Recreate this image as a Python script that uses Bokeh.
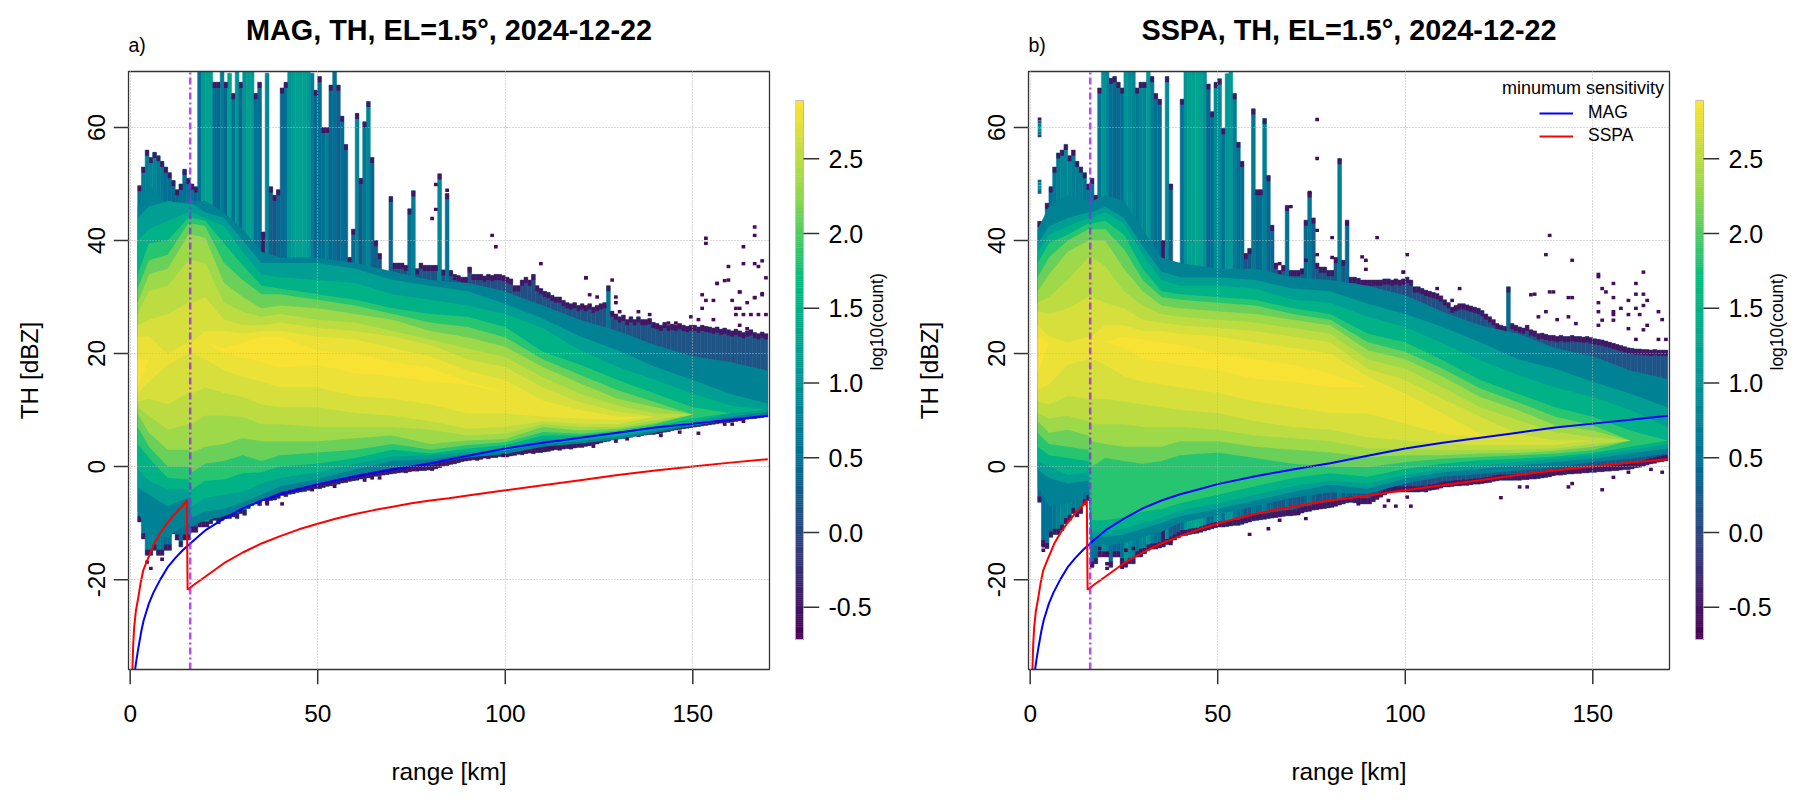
import math
from bokeh.plotting import figure
from bokeh.layouts import row
from bokeh.models import (ColumnDataSource, FixedTicker, Label, Legend, LegendItem, Range1d, Title)
from bokeh.embed import file_html
from bokeh.resources import INLINE

# colour scale: log10(count)
CB_LOW, CB_HIGH = -0.715, 2.89
CB_TICKS = [-0.5, 0.0, 0.5, 1.0, 1.5, 2.0, 2.5]
STOPS = ["#4B0055", "#353E7C", "#007094", "#009B95", "#00BE7D", "#96D84B", "#FDE333"]

X_TICKS = [0, 50, 100, 150]
Y_TICKS = [-20, 0, 20, 40, 60]
X_BOX = (-0.45, 170.45)
Y_BOX = (-35.9, 69.9)

# per-km columns (range bins 2..169 km): top and bottom of the occupied dBZ span, column log10(count)
KM = list(range(2, 170))
A_TOP = [49.7,53,56,54.7,55.6,55,54,53,
 52,50.6,49,50,52.6,51,50,49.5,70,70,
 70,70,68,68,70,68,69.6,66,70,68,
 70,70,70,66,68,41.5,69.6,49.5,48,49,
 67,68,70,70,70,70,70,70,69.6,66.6,
 69,60,60,67.5,70,67.5,62,57,37,42,
 62.5,51,61,64.6,54.7,40,37.7,34,34,47.8,
 36,36,36,35.6,45.6,48.8,35,36,35.6,35.6,
 35.6,35.6,51.8,34.8,48.3,34.7,34,33.8,33.5,33.5,
 35.3,34,34,34,33.7,34,33.8,34,34,33.8,
 33.5,33.2,32,32,33,33.5,33,34,32,31.5,
 31,30.8,30.3,30,30,29.4,29,28.8,29,28.5,
 28.8,28.5,28.8,28.2,28.5,28.8,29,32,27.5,27,
 26.5,26.8,26,26.5,26,26.5,26,26,26.2,25.5,
 25.3,25,25.5,25,25.2,25,25.3,25,24.8,25,
 25,24.7,25,24.8,24.7,24.5,24.7,24.3,24.5,24.2,
 24,24.3,24,23.7,24,24.2,23.7,23.5,23.8,23.5]
A_BOT = [-9.8,-12.8,-15.7,-15.7,-14.8,-15.7,-15.7,-14.8,
 -14.8,-11.9,-13,-14.2,-13,-13,-11.6,-11.6,-10.7,-10.7,
 -10.7,-10.1,-9.5,-10.1,-9.5,-9.2,-9.2,-8.9,-9.2,-8.3,
 -8.6,-7.4,-6.9,-6.6,-6.9,-6,-6.6,-6,-5.9,-5.6,
 -5.1,-5.3,-4.9,-4.8,-4.6,-4.5,-4.4,-4.2,-4.1,-3.9,
 -3.9,-3.7,-3.5,-3.4,-3.2,-3.1,-2.9,-2.8,-2.6,-2.5,
 -2.4,-2.2,-2.1,-2,-1.8,-1.7,-1.6,-1.5,-1.4,-1.3,
 -1.2,-1.1,-1,-1.1,-.9,-.8,-.8,-.7,-.7,-.6,
 -.7,-.4,-.2,.1,.2,.4,.5,.7,.9,1,
 1.1,1.2,1.1,1.3,1.5,1.4,1.6,1.6,1.8,1.7,
 1.7,1.9,2,2.2,2.1,2.3,2.4,2.3,2.5,2.5,
 2.6,2.7,2.9,3,2.9,3.1,3.2,3.1,3.3,3.4,
 3.4,3.6,3.7,3.9,4,4.2,4.4,4.5,4.7,4.8,
 4.9,5,5.1,5.2,5.4,5.3,5.5,5.6,5.7,5.7,
 5.8,5.9,6.1,6.2,6.4,6.5,6.6,6.7,6.8,6.9,
 7,7.1,7.2,7.3,7.4,7.5,7.6,7.7,7.8,7.8,
 7.9,8,8.1,8.3,8.4,8.5,8.5,8.6,8.7,8.8]
A_VAL = [.6,.7,.7,.8,.8,.7,.6,.5,
 .5,.4,.4,.5,.5,.5,.6,.4,.5,1.1,
 1.2,1.2,.5,.4,.7,.4,1.2,.5,1.0,.4,
 1.0,1.2,1.1,.5,.5,-.5,.8,.3,.2,.4,
 .4,.5,1.0,1.1,1.2,1.2,1.2,1.1,.7,.4,
 .5,.5,.7,.4,.5,.3,.5,.4,.2,.4,
 .8,.2,.6,.8,.4,.3,.3,.3,.3,.4,
 .2,.2,.2,.2,.5,.7,.2,.2,.2,.2,
 .2,.2,.85,.2,.55,.2,.2,.2,.2,.2,
 .1,.1,.1,.1,.1,.1,.1,.1,.1,.1,
 .1,.1,.1,.1,.1,.1,.1,.1,.1,.1,
 .15,.15,.15,.15,.15,.15,.15,.15,.15,.15,
 .15,.15,.15,.15,.15,.15,.15,.6,.15,.15,
 .15,.15,.15,.15,.15,.15,.15,.15,.15,.15,
 .15,.15,.15,.15,.15,.15,.15,.15,.15,.15,
 .15,.15,.15,.15,.15,.15,.15,.15,.15,.15,
 .15,.15,.15,.15,.15,.15,.15,.15,.15,.15]

B_TOP = [43.4,43,46.6,49.5,53,55.5,56,57,
 55,56,54,53,52,50,51,48,67,70,
 70,68.7,69,68,67,70,70,70,67,68,
 68,70,69,66,65,40,69,50,36,36,
 65,70,70,70,70,70,70,67.7,62.8,68,
 68.6,59.8,69.5,70,66,57.4,54,37.7,38.6,63.3,
 49,49,61.6,51.5,42.7,36,34.7,35.6,46.2,34.7,
 34.7,34.7,35,43.6,48.6,44,36,35.3,35.3,34.7,
 34.7,37,54.5,36.5,43.6,33.5,33.5,33.3,33,33,
 33,33,33,33,33.2,33.2,33,33.2,33,33.2,
 33.5,33,31.8,31.8,31.5,31.2,31,30.8,30.6,30.2,
 29.5,29,28.2,28.5,28.8,28.8,28.6,28.4,28.2,28,
 27.6,27,26.5,26,25.3,25,24.8,31.8,25.3,25,
 24.7,24.5,25,24.2,24,23.5,23.6,23.4,23.2,23.2,
 23,23.2,23,23,23.2,23,23,22.9,23,22.8,
 22.6,22.5,22.4,22.2,22,21.8,21.6,21.4,21.2,21,
 20.9,20.8,20.8,20.7,20.7,20.6,20.7,20.6,20.6,20.6]
B_BOT = [-6.3,-14,-14.5,-12.5,-12,-12,-11.3,-10.1,
 -9.5,-8.3,-8.9,-8.3,-6.8,-6,-17.8,-17.2,-16,-16,
 -16,-17.8,-16,-16,-17.8,-17.8,-17.2,-17.2,-16,-16,
 -15.4,-14.8,-14.6,-14.6,-14.4,-14.2,-13.8,-13.4,-13,-12.6,
 -12.2,-12.2,-12,-11.9,-11.8,-11.6,-11.4,-11.2,-11,-10.8,
 -10.7,-10.7,-10.6,-10.5,-10.4,-10.4,-10.2,-10,-9.8,-9.6,
 -9.5,-9.4,-9.3,-9.2,-9.1,-9,-8.9,-8.8,-8.7,-8.7,
 -8.6,-8.4,-8.2,-8,-7.9,-7.7,-7.6,-7.5,-7.4,-7.3,
 -7.2,-7,-6.8,-6.6,-6.4,-6.3,-6.4,-6.5,-6.6,-6.6,
 -6.6,-6.2,-5.8,-5.4,-5,-4.5,-4.5,-4.5,-4.5,-4.5,
 -4.5,-4.5,-4.5,-4.5,-4.4,-4.5,-4.2,-4.1,-4,-3.8,
 -3.6,-3.6,-3.5,-3.4,-3.4,-3.3,-3.3,-3.2,-3.1,-3.1,
 -3,-2.9,-2.8,-2.6,-2.5,-2.4,-2.4,-2.4,-2.4,-2.4,
 -2.4,-2.3,-2.3,-2.2,-2.2,-2.1,-2,-1.9,-1.8,-1.6,
 -1.5,-1.5,-1.4,-1.3,-1.3,-1.2,-1.2,-1.1,-1.1,-1,
 -1,-.9,-.9,-.8,-.8,-.7,-.7,-.6,-.5,-.5,
 -.4,-.2,-.1,.1,.3,.5,.6,.8,.9,1]
B_VAL = [.5,.5,.5,.5,.6,.7,.8,.8,
 .8,.7,.7,.7,.6,.6,.6,.5,.6,1.0,
 .8,.5,.4,.4,.5,1.0,.9,.8,.6,.8,
 .8,1.1,.7,.5,.5,-.5,.9,.3,.2,.2,
 .5,1.0,1.2,1.2,1.3,1.2,1.0,.4,.5,.9,
 .9,.5,1.0,1.1,.7,.5,.5,.2,.2,.6,
 .4,.5,.7,.4,.4,.2,.2,.2,.5,.2,
 .2,.2,.2,.4,.6,.3,.2,.2,.2,.2,
 .2,.2,.7,.2,.4,.2,.2,.2,.2,.2,
 .1,.1,.1,.1,.1,.1,.1,.1,.1,.1,
 .1,.1,.1,.1,.1,.1,.1,.1,.1,.1,
 .15,.15,.15,.15,.15,.15,.15,.15,.15,.15,
 .15,.15,.15,.15,.15,.15,.15,.4,.15,.15,
 .15,.15,.15,.15,.15,.15,.15,.15,.15,.15,
 .15,.15,.15,.15,.15,.15,.15,.15,.15,.15,
 .15,.15,.15,.15,.15,.15,.15,.15,.15,.15,
 .15,.15,.15,.15,.15,.15,.15,.15,.15,.15]

# iso-count contours read at range stations (km): upper and lower dBZ edge per log10(count) level
ST = [2,5,10,15.5,16.5,20,25,30,35,40,50,60,70,80,90,100,110,120,130,140,150,160,170]
LEVEL_COLOR_VALUES = [0.75,1.15,1.5,1.85,2.12,2.35,2.52,2.67,2.8,2.87]

A_HI_05 = [46,50,46,47,47,47,45,42,38,37,37,36,34.5,33,32.5,31,28.5,26,24,21.5,19.5,18.5,17]
A_LO_05 = [-8,-12,-12.5,-10,-10.5,-9.5,-8.8,-7.5,-6,-4.5,-3,-1.5,-.2,.5,1.6,2.2,3.5,4.1,4.8,6,7.2,8.3,9]
A_HI_10 = [44,46,47,46.5,46.5,45,44,40,36,36,36,35,33,32,31,28.8,26.2,23,20.6,17.6,15.3,12.9,11.1]
A_LO_10 = [-3.6,-5,-7,-5.5,-9,-8,-7.5,-6.3,-5,-3.5,-2.2,-.5,1,1.3,2.2,2.8,4,4.5,5.3,6.4,7.5,8.8,9.7]
A_HI_13 = [40,42,43.5,45,45,44,42.5,38,34,33.5,33,32.5,30.5,29.5,28.5,27,24.5,20.6,17.6,15.3,12.9,10.8,10]
A_LO_13 = [-.5,-2.5,-4,-4,-7,-5.5,-5,-4.5,-3,-2,-1,.5,1.8,2,2.6,3.2,4.9,4.9,5.5,6.7,7.9,9.4,10]
A_HI_17 = [34,39.5,40,44,44,43.5,39.5,35.6,32,31.5,30.5,29.5,28,27,26.5,24.7,20.3,18,15.3,12.9,10.5,9.5,10]
A_LO_17 = [4,1.5,-2,-2.3,-4,-2.5,-2.3,-1.2,-1,0,.5,1.5,3,2.3,3.2,3.8,5.5,5.5,6.1,7.1,8.5,9.5,10]
A_HI_20 = [31.5,36.5,37.5,43,43,42.5,36,33,30.5,30.5,29.5,28.5,27,25.5,24.7,22.9,19,16.2,13.5,11.4,9.2,9.5,10]
A_LO_20 = [7,3.5,0,0,-1,.5,1,2,1,2,2.5,3,4,3,3.8,4.3,6.1,5.8,6.4,7.5,9.2,9.5,10]
A_HI_225 = [29,34,35,41,41,40.5,32.5,30,28,28.5,28,27,26,24,22.9,21.2,17.6,14.7,12,10.5,9.2,9.5,10]
A_LO_225 = [9.3,6,3,3,2.5,3.5,4,5,4.5,4.5,4.5,5,5.5,4,4.6,4.9,7,6.4,6.7,7.7,9.2,9.5,10]
A_HI_245 = [27,31,32,36.5,36.5,36,29,27.4,26.5,27,26,25.5,24,22.5,20.9,19.4,15.8,12.9,10.8,9.4,9.2,9.5,10]
A_LO_245 = [10.5,9,6.5,7.5,7.5,9,9,8.8,7.5,7.5,7,7,7,6.5,5.5,5.8,7.5,7,7,8.2,9.2,9.5,10]
A_HI_26 = [25,26,27,29,29,30,26,25,25,25.5,24.5,24,23,21.5,19,17.6,14,11.4,9.7,8.8,9.2,9.5,10]
A_LO_26 = [11.5,12,11,13,13,14,13,12.3,11,10.5,10.5,9.5,9,8,6.7,7,8,7.6,7.5,8.8,9.2,9.5,10]
A_HI_275 = [23,23,20,22,22,24,24,23.5,24,24,23,22.5,21,19.5,17,15.3,11.7,10,8.8,8.8,9.2,9.5,10]
A_LO_275 = [13,15,18,20,20,19,17,15.9,15,14,14,12.5,12,11,9.4,9.4,8.8,8.5,8.2,8.8,9.2,9.5,10]
A_HI_285 = [19,19,19,20,20,22,21,22,23,23,20.5,20,18.5,17.5,15,13,11,9.5,8.5,8.8,9.2,9.5,10]
A_LO_285 = [14,19,19,20,20,22,20,19.4,18.5,17.5,18,16.5,16,15,14.5,13,11,9.5,8.5,8.8,9.2,9.5,10]

B_HI_05 = [42,46,48,47,47,48,47,42,37,36,35,35,33.5,33,32,30.3,27.4,25,23.5,21,19.5,17,15.5]
B_LO_05 = [-3.5,-7,-6.5,-4.5,-14,-14,-13.5,-12.5,-11.5,-10,-8.5,-7,-5.5,-4.6,-4.8,-3,-1.8,-1.3,-.7,-.1,.8,1.4,2.3]
B_HI_10 = [39.5,42.5,44,45,45,46,44,39,34.5,33.5,33.5,33,31.5,31,28.8,27,24.7,22,19,17.3,15,12.9,10.5]
B_LO_10 = [-.5,-2,-3,-2.5,-12.5,-12.5,-12,-11,-10,-8.8,-7.5,-6,-4.5,-3.2,-3.9,-2.1,-1,-.4,.2,.8,1.4,2.3,3.2]
B_HI_13 = [38,41,42.5,44,44,45,43,37.5,33,32,32,31.5,29.5,29,26.5,24.7,21.8,18.8,16.2,14,12.3,10,7]
B_LO_13 = [1,0,-1.5,-1,-11.5,-11.5,-11,-10,-9,-7.8,-6.5,-5,-3.5,-2.5,-3,-1.5,-.4,.2,.8,1.4,2,2.9,4]
B_HI_17 = [36,39.5,41,43,43,43.5,41,35,31,30.5,30,29.5,28,27,23.5,22,18.8,15.3,12.9,10.5,8.8,6.4,4.6]
B_LO_17 = [3.5,2,1.5,1,-9.5,-9.5,-9,-8,-7.5,-6.5,-5,-3.5,-2,-1.2,-1.8,-.4,.5,1.1,1.4,1.8,2.4,3.5,4.6]
B_HI_20 = [33.5,37,40,42,42,42,38.5,33,30,29.5,29,28.5,27,26,22,20.3,17.3,13.8,11.4,8.8,7.3,4.6,4.6]
B_LO_20 = [6,4,3.5,3,0,1.5,1,.5,1,2,2.5,1.5,.5,0,-.1,.8,1.4,1.7,2,2.3,2.9,4.6,4.6]
B_HI_225 = [31,34,38,40,40,40,35,31,28.5,28,27.5,27,26,25,20.6,19,15.9,12.3,10,7.3,6.4,4.6,4.6]
B_LO_225 = [8,6,6.5,5.5,4.5,4,3.5,3.5,3.5,4.5,4.5,3.5,3,2.5,1.7,2,2,2.3,2.4,2.8,3.5,4.6,4.6]
B_HI_245 = [29,30,33,37,37,35.5,31,28.5,27,26.5,26,25.5,24.5,23.5,19,17.3,14,10.5,8.2,6.1,5.2,4.6,4.6]
B_LO_245 = [9.5,8.5,9,8,7.5,7.5,7.5,7,7,7,6.5,5.5,5,4.5,3.2,3.2,2.9,2.9,3,3.2,4,4.6,4.6]
B_HI_26 = [27.5,27,28,30,30,29,28,26,25.5,25,24.5,24,23,22,17.3,15.3,12,8.8,5.8,4.6,4.6,4.6,4.6]
B_LO_26 = [11.5,11,12.5,12,12,12,11.5,11,10.5,10,9.5,8,7,6.5,5.2,4.6,4,3.8,3.8,3.8,4.6,4.6,4.6]
B_HI_275 = [25,23,22,23,23,25,25,24,24,23.5,23,22,21,20,15.9,12.9,9.4,5.8,4.6,4.6,4.6,4.6,4.6]
B_LO_275 = [13.5,14.5,18,19,19,18,16,15,14.5,14,13,11.5,10.5,9.5,9.4,7.6,5.8,5.2,4.6,4.6,4.6,4.6,4.6]
B_HI_285 = [23,22,20,21,21,22,23,22.5,22,21.5,20,19,18,16.5,14,12,9,5.5,4.6,4.6,4.6,4.6,4.6]
B_LO_285 = [16.5,22,20,21,21,22,21,19,18.5,18,17,15.5,15,14,14,12,9,5.5,4.6,4.6,4.6,4.6,4.6]

# isolated single-count cells (km, dBZ)
A_CELL_KM = [80,81.8,81.8,84.9,96.8,97.7,109.8,121.6,122.8,124.7,129.6,129.6,130.7,135.8,138.7,153.6,153.6,166.7,166.7,163.8,
 159.4,163.8,166.7,168.6,167.7,169.5,158.6,156.7,152.7,153.6,155.8,160.7,162.6,166.7,168.6,164.6,152.7,161.5,161.5,163.8,
 165.5,167.7,169.5,151.8,155.8,162.6,164.6,149.6,156.8,159,162.8,168.8,166.6,162,128,143.9,145.9,121.7,
 5,8.9,4,40.9,36.9,48.9,54.9,62,64.9,66.9,151.9,99.5,123.9,129.7,132.8,141.7,146.1,160.8,163.9,158.6,111.5,112.8]
A_CELL_Z = [43.9,49.9,45.5,48.9,40.9,38.9,35.9,33.4,30.4,30,30,29,27.4,27.4,26.9,40.4,39.5,42.4,40.9,38.9,
 35.4,35.9,35.9,36.4,35.4,33.4,32.9,32.4,30.4,29.4,29.4,29.4,30.9,29.9,30.4,29,28,28,26.9,26.9,
 26.9,26.9,26.9,26,26,25,24.4,26.5,32.4,33,30.9,30.6,29.9,28,33,25.4,25.4,33.4,
 -18,-16.4,-16.9,-6.6,-6.6,-4.1,-3.5,-2.4,-2,-2,5.9,2,3.6,4.5,4.9,5.5,6.1,7.5,8,7.5,3.2,3.2]
B_CELL_KM = [76.9,76.9,74.9,69,76.9,80,92,84.9,88,89.8,100,80.9,76.9,73.1,66.7,89.8,99.1,138.8,137.8,144,
 138.8,144,133.8,114.9,108,112,99,151,151.9,163.9,155.9,161.7,152.8,153.7,161.2,163.9,134.1,139,143.9,155.9,
 159.9,164.8,151,163,157.7,167,151.9,155,161.7,155.9,159.9,162.1,168.8,137.9,135.9,140.4,143,145.2,151.9,155,
 159,164.8,152.4,163,167,169.7,161.2,125.7,152.8,143,165.7,168.8,155.9,159,144.8,130.6,132.8,101.7,97.7,95.9,
 100.8,94.6,87.5,58.1,63.9,73.2,66.5,71.9,37.2,33.2,27.9,29.7,20.8,25.2,3,3.9,18.6,20.4,20.9,24,24.9,16.9]
B_CELL_Z = [61.4,54.5,48.5,46,41.8,40.5,40.5,43,37.1,36.5,37.5,37,37.5,36.5,35.9,34.9,34.4,40.9,37.5,36.5,
 30.9,29.9,30.4,31.5,31.5,29.4,34.4,34,33.6,34.4,32.4,32.4,31.5,30.9,30.5,30.5,30.5,30.9,29.9,29.9,
 29.4,29.4,29,28.5,28,27.4,27.4,27.4,28,26.9,26.9,26.9,26,27.4,26.5,26,26.5,25.3,25,25.9,
 24.4,25,25.9,24.2,22.5,22.5,22.5,-5.5,-4.1,-3.6,-.5,-1,-1.9,-1,-3,-3.6,-3.6,-7,-7,-6,
 -5.4,-7,-6.6,-12,-11,-9.2,-9.5,-8.3,-13.6,-13.9,-14.5,-14.8,-15.4,-14.8,-14,-14.8,-14.5,-17.2,-18,-16.5,-17.8,-17.5]
# detached strip of cells at 2 km in panel b
B_STRIP_Z = [61.5,61,60.5,60,59.5,59,58.5,50.5,50,49.5,49,48.5]
B_STRIP_V = [-.5,.3,.7,1.0,.9,.5,-.1,.3,.8,1.0,.7,.2]

# minimum sensitivity curves
MAG_KM = [1.3,1.6,2.2,3,3.6,5,6.2,8,10,12,14,16,20,25,30,35,40,45,50,60,70,80,90,100,110,120,130,140,150,160,170]
MAG_DB = [-35.9,-34.5,-32,-29,-27.2,-24.2,-22.3,-20,-17.8,-16.2,-14.8,-13.6,-11.3,-9.2,-7.4,-6,-4.9,-4,-3.1,-1.7,-.5,.6,1.9,3.2,4.2,5.1,6,6.9,7.6,8.3,9]
SSPA_KM = [.6,.8,1.07,1.5,2.2,2.8,3.5,4.3,5.3,6.5,8,9.8,12,14,15.1,15.3,17,20,25,30,35,40,45,50,55,60,65,70,75,80,85,90,100,110,120,130,140,150,160,170]
SSPA_DB = [-35.9,-31.5,-28.4,-25.6,-23,-20.5,-18.3,-17,-15.4,-13.5,-11.8,-10.1,-8.3,-6.9,-6,-21.8,-20.9,-19.5,-17.1,-15.2,-13.6,-12.3,-11.1,-10.1,-9.2,-8.4,-7.7,-7.1,-6.5,-6,-5.6,-5.1,-4.2,-3.3,-2.4,-1.5,-.7,0,.7,1.3]
BLIND_KM = 16


def mix(c1, c2, t):
    a = [int(c1[i:i+2], 16) for i in (1, 3, 5)]
    b = [int(c2[i:i+2], 16) for i in (1, 3, 5)]
    return "#%02X%02X%02X" % tuple(round(u + (v - u) * t) for u, v in zip(a, b))

PAL = []
for i in range(256):
    pos = i / 255 * (len(STOPS) - 1)
    j = min(int(pos), len(STOPS) - 2)
    PAL.append(mix(STOPS[j], STOPS[j + 1], pos - j))


def col(v):
    t = (v - CB_LOW) / (CB_HIGH - CB_LOW)
    return PAL[max(0, min(255, int(t * 255)))]


FONT = "Liberation Sans"
SZ = "24.4px"
TICK_X = 4.0    # 15 px in km
TICK_Y = 2.655  # 15 px in dB
TICK_COLOR = "#333333"


def panel(title, tag, top, bot, val, layers, cell_km, cell_z, left_border):
    # the frame reaches 15 px past the data box on all sides so that tick marks can be drawn as glyphs
    p = figure(width=left_border + 671, height=794, output_backend="svg", toolbar_location=None,
               min_border_left=left_border, min_border_right=0, min_border_top=56, min_border_bottom=110,
               x_range=Range1d(X_BOX[0] - TICK_X, X_BOX[1] + TICK_X), y_range=Range1d(Y_BOX[0] - TICK_Y, Y_BOX[1] + TICK_Y),
               frame_width=671, frame_height=628, title=title)
    p.title.align = "center"
    p.title.text_font = FONT
    p.title.text_font_size = "28.8px"
    p.title.text_font_style = "bold"
    p.title.text_color = "black"
    p.title.standoff = -30
    p.add_layout(Title(text=tag, align="left", offset=15, text_font=FONT, text_font_size="19.5px",
                       text_font_style="normal", text_color="black", standoff=2), "above")
    p.outline_line_color = None

    # occupied span per km
    colors = [col(v) for v in val]
    src = ColumnDataSource(dict(l=KM, r=[k + 1 for k in KM], t=[min(t, Y_BOX[1]) for t in top], b=bot, c=colors))
    p.quad(left="l", right="r", top="t", bottom="b", source=src, fill_color="c", line_color="c", line_width=0.6)
    # dark one-count fringe at either end of each column
    cap_k = [k for k, t in zip(KM, top) if t < 69.5]
    cap_t = [t for t in top if t < 69.5]
    p.quad(left=cap_k, right=[k + 1 for k in cap_k], top=cap_t, bottom=[t - 1 for t in cap_t],
           fill_color=col(-.5), line_color=None)
    p.quad(left=KM, right=[k + 1 for k in KM], top=[b + 1 for b in bot], bottom=bot,
           fill_color=col(-.5), line_color=None)
    # iso-count bands
    for (hi, lo), v in zip(layers, LEVEL_COLOR_VALUES):
        p.varea(x=ST, y1=lo, y2=hi, fill_color=col(v))
    # single cells
    p.quad(left=[math.floor(k) for k in cell_km], right=[math.floor(k) + 1 for k in cell_km],
           top=[z + .3 for z in cell_z], bottom=[z - .3 for z in cell_z], fill_color=col(-.6), line_color=None)

    p.xaxis.ticker = FixedTicker(ticks=X_TICKS)
    p.yaxis.ticker = FixedTicker(ticks=Y_TICKS)
    p.yaxis[0].major_label_overrides = {t: str(t) for t in Y_TICKS}
    p.xaxis.axis_label = "range [km]"
    p.yaxis.axis_label = "TH [dBZ]"
    for ax in (p.xaxis[0], p.yaxis[0]):
        ax.axis_label_text_font = FONT
        ax.axis_label_text_font_size = SZ
        ax.axis_label_text_font_style = "normal"
        ax.axis_label_text_color = "black"
        ax.major_label_text_font = FONT
        ax.major_label_text_font_size = SZ
        ax.major_label_text_color = "black"
        ax.axis_line_color = None
        ax.major_tick_line_color = None
        ax.major_tick_in = 0
        ax.major_tick_out = 0
        ax.minor_tick_line_color = None
    p.yaxis[0].major_label_orientation = "vertical"
    p.xaxis[0].major_label_standoff = 20
    p.yaxis[0].major_label_standoff = 8
    p.xaxis[0].axis_label_standoff = 33
    p.yaxis[0].axis_label_standoff = 43

    p.grid.grid_line_color = "#b5b5b5"
    p.grid.grid_line_dash = "1 2"
    p.grid.grid_line_width = 1
    p.grid.level = "overlay"
    if "cross_bounds" in p.xgrid[0].properties():
        p.xgrid.cross_bounds = Y_BOX
        p.ygrid.cross_bounds = X_BOX

    mag = p.line(MAG_KM, MAG_DB, line_color="#0000FF", line_width=2)
    ssp = p.line(SSPA_KM, SSPA_DB, line_color="#FF0000", line_width=2)
    p.line([BLIND_KM, BLIND_KM], list(Y_BOX), line_color="#A020F0", line_width=2.5, line_dash="7 3 2 3", line_alpha=.8)

    # tick marks and data box
    p.segment(x0=X_TICKS, x1=X_TICKS, y0=[Y_BOX[0]] * len(X_TICKS), y1=[Y_BOX[0] - TICK_Y] * len(X_TICKS),
              line_color=TICK_COLOR, line_width=1.5)
    p.segment(x0=[X_BOX[0]] * len(Y_TICKS), x1=[X_BOX[0] - TICK_X] * len(Y_TICKS), y0=Y_TICKS, y1=Y_TICKS,
              line_color=TICK_COLOR, line_width=1.5)
    p.quad(left=X_BOX[0], right=X_BOX[1], bottom=Y_BOX[0], top=Y_BOX[1], fill_alpha=0,
           line_color="#333333", line_width=1.3)
    return p, mag, ssp


def colorbar(width):
    # frame spans the same height as the panels; the bar occupies the read value span inside it
    n = len(PAL)
    edges = [CB_LOW + (CB_HIGH - CB_LOW) * i / n for i in range(n + 1)]
    p = figure(width=width, height=794, output_backend="svg", toolbar_location=None,
               min_border_left=11, min_border_right=width - 35, min_border_top=56, min_border_bottom=110,
               frame_width=24, frame_height=628, x_range=Range1d(0, 3), y_range=Range1d(-1.016, 3.184),
               x_axis_location=None, y_axis_location="right")
    p.quad(left=0, right=1, bottom=edges[:-1], top=edges[1:], fill_color=PAL, line_color=PAL, line_width=0.5)
    p.quad(left=0, right=1, bottom=CB_LOW, top=CB_HIGH, fill_alpha=0, line_color="#bbbbbb", line_width=1)
    p.segment(x0=[1] * len(CB_TICKS), x1=[3] * len(CB_TICKS), y0=CB_TICKS, y1=CB_TICKS,
              line_color=TICK_COLOR, line_width=1.5)
    p.grid.visible = False
    p.outline_line_color = None
    ax = p.yaxis[0]
    ax.ticker = FixedTicker(ticks=CB_TICKS)
    ax.major_label_overrides = {t: "%.1f" % t for t in CB_TICKS}
    ax.major_label_text_font = FONT
    ax.major_label_text_font_size = "25px"
    ax.major_label_text_color = "black"
    ax.major_label_standoff = 9
    ax.major_tick_in = 0
    ax.major_tick_out = 0
    ax.major_tick_line_color = None
    ax.minor_tick_line_color = None
    ax.axis_line_color = None
    ax.axis_label = "log10(count)"
    ax.axis_label_text_font = FONT
    ax.axis_label_text_font_size = "17.5px"
    ax.axis_label_text_font_style = "normal"
    ax.axis_label_text_color = "black"
    ax.axis_label_standoff = 2
    if "axis_label_orientation" in ax.properties():
        ax.axis_label_orientation = math.pi / 2
    return p


A_LAYERS = [(A_HI_05, A_LO_05), (A_HI_10, A_LO_10), (A_HI_13, A_LO_13), (A_HI_17, A_LO_17), (A_HI_20, A_LO_20),
            (A_HI_225, A_LO_225), (A_HI_245, A_LO_245), (A_HI_26, A_LO_26), (A_HI_275, A_LO_275), (A_HI_285, A_LO_285)]
B_LAYERS = [(B_HI_05, B_LO_05), (B_HI_10, B_LO_10), (B_HI_13, B_LO_13), (B_HI_17, B_LO_17), (B_HI_20, B_LO_20),
            (B_HI_225, B_LO_225), (B_HI_245, B_LO_245), (B_HI_26, B_LO_26), (B_HI_275, B_LO_275), (B_HI_285, B_LO_285)]

p1, _, _ = panel("MAG, TH, EL=1.5°, 2024-12-22", "a)", A_TOP, A_BOT, A_VAL, A_LAYERS, A_CELL_KM, A_CELL_Z, 113)
p2, mag2, ssp2 = panel("SSPA, TH, EL=1.5°, 2024-12-22", "b)", B_TOP, B_BOT, B_VAL, B_LAYERS, B_CELL_KM, B_CELL_Z, 105)

p2.quad(left=[2] * len(B_STRIP_Z), right=[3] * len(B_STRIP_Z), top=[z + .25 for z in B_STRIP_Z],
        bottom=[z - .25 for z in B_STRIP_Z], fill_color=[col(v) for v in B_STRIP_V], line_color=None)

legend = Legend(items=[LegendItem(label="MAG", renderers=[mag2]), LegendItem(label="SSPA", renderers=[ssp2])],
                location=(526, 538), orientation="vertical", border_line_color=None, background_fill_alpha=0,
                padding=0, margin=0, spacing=2, glyph_width=34, glyph_height=20, label_height=20,
                label_standoff=15, label_text_font=FONT, label_text_font_size="17.5px", label_text_color="black")
p2.add_layout(legend)
p2.add_layout(Label(x=169, y=67, text="minumum sensitivity", text_font=FONT, text_font_size="18px",
                    text_align="right", text_baseline="middle", text_color="black"))

page = row(p1, colorbar(124), p2, colorbar(115), spacing=0)
open("out.html", "w").write(file_html(page, INLINE))
